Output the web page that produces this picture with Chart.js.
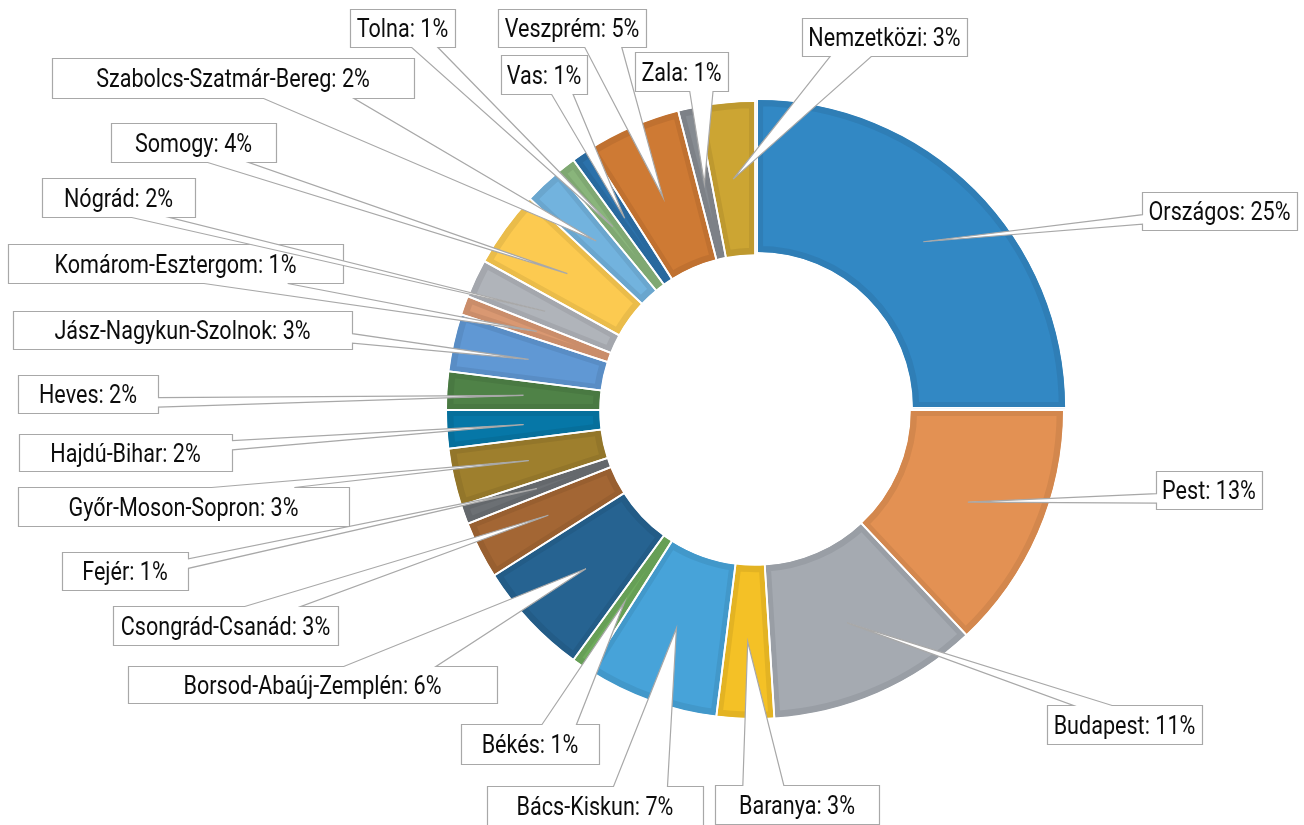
<!DOCTYPE html>
<html>
<head>
<meta charset="utf-8">
<script src="https://cdn.jsdelivr.net/npm/chart.js@4.4.0/dist/chart.umd.min.js"></script>
<style>
  html, body { margin: 0; padding: 0; background: #fff; }
</style>
</head>
<body>
<canvas id="kor" width="1304" height="825"></canvas>
<script>
const megyek = ["Országos", "Pest", "Budapest", "Baranya", "Bács-Kiskun", "Békés",
  "Borsod-Abaúj-Zemplén", "Csongrád-Csanád", "Fejér", "Győr-Moson-Sopron", "Hajdú-Bihar",
  "Heves", "Jász-Nagykun-Szolnok", "Komárom-Esztergom", "Nógrád", "Somogy",
  "Szabolcs-Szatmár-Bereg", "Tolna", "Vas", "Veszprém", "Zala", "Nemzetközi"];
const aranyok = [25, 13, 11, 3, 7, 1, 6, 3, 1, 3, 2, 2, 3, 1, 2, 4, 2, 1, 1, 5, 1, 3];

const szinek = ["#3288c4", "#e39153", "#a5aab1", "#f4c126", "#47a3d9", "#6eab5c",
  "#266391", "#a36634", "#6c7074", "#9e7f2d", "#0677a7", "#4f8247", "#6098d4",
  "#d99872", "#b0b4ba", "#fcca50", "#72b3de", "#89b57b", "#2b71aa", "#ce7a34",
  "#868b91", "#cca533"];

// címkedobozok: [x, y, szélesség, magasság]
const dobozok = [
  [1142, 192, 155, 38], [1156, 471, 106, 38], [1047, 705, 155, 39], [715, 785, 164, 39],
  [487, 786, 216, 39], [461, 724, 138, 40], [128, 666, 369, 37], [113, 606, 225, 39],
  [62, 552, 126, 38], [18, 487, 331, 39], [19, 434, 213, 37], [18, 375, 140, 38],
  [13, 311, 339, 38], [8, 244, 335, 39], [42, 178, 153, 39], [111, 123, 165, 39],
  [52, 58, 362, 40], [350, 9, 105, 38], [501, 55, 86, 39], [498, 9, 148, 38],
  [635, 52, 93, 39], [802, 18, 165, 38]
];

function sotetit(hex, k = 0.93) {
  const n = parseInt(hex.slice(1), 16);
  const c = [(n >> 16) & 255, (n >> 8) & 255, n & 255].map(v => Math.round(v * k));
  return `rgb(${c[0]},${c[1]},${c[2]})`;
}

// téglalap alakú szóbuborék, a csúcsa a cikkbe mutat
function buborek(ctx, b, tip) {
  const [l, t, w, h] = b;
  const r = l + w, bt = t + h;
  const dx = tip.x - (l + w / 2), dy = tip.y - (t + h / 2);
  const oldalt = Math.abs(dx) * h > Math.abs(dy) * w;
  const x1 = l + w * (dx > 0 ? 7 : 2) / 12, x2 = l + w * (dx > 0 ? 10 : 5) / 12;
  const y1 = t + h * (dy > 0 ? 7 : 2) / 12, y2 = t + h * (dy > 0 ? 10 : 5) / 12;
  ctx.beginPath();
  ctx.moveTo(l, t);
  if (!oldalt && dy < 0) { ctx.lineTo(x1, t); ctx.lineTo(tip.x, tip.y); ctx.lineTo(x2, t); }
  ctx.lineTo(r, t);
  if (oldalt && dx > 0) { ctx.lineTo(r, y1); ctx.lineTo(tip.x, tip.y); ctx.lineTo(r, y2); }
  ctx.lineTo(r, bt);
  if (!oldalt && dy > 0) { ctx.lineTo(x2, bt); ctx.lineTo(tip.x, tip.y); ctx.lineTo(x1, bt); }
  ctx.lineTo(l, bt);
  if (oldalt && dx < 0) { ctx.lineTo(l, y2); ctx.lineTo(tip.x, tip.y); ctx.lineTo(l, y1); }
  ctx.closePath();
}

const feliratok = {
  id: 'feliratok',
  afterDatasetsDraw(chart) {
    const ctx = chart.ctx;
    const arcs = chart.getDatasetMeta(0).data;

    // fehér rések a cikkek között
    ctx.save();
    ctx.strokeStyle = '#fff';
    ctx.lineWidth = 1.8;
    arcs.forEach(arc => {
      const {x, y, startAngle, endAngle, innerRadius, outerRadius} = arc;
      const off = (arc.options.offset || 0) / 4;
      const half = (startAngle + endAngle) / 2;
      const ox = x + Math.cos(half) * off, oy = y + Math.sin(half) * off;
      [startAngle, endAngle].forEach(a => {
        ctx.beginPath();
        ctx.moveTo(ox + Math.cos(a) * (innerRadius - 2), oy + Math.sin(a) * (innerRadius - 2));
        ctx.lineTo(ox + Math.cos(a) * (outerRadius + 2), oy + Math.sin(a) * (outerRadius + 2));
        ctx.stroke();
      });
    });
    ctx.restore();

    // buborékos címkék
    ctx.save();
    arcs.forEach((arc, i) => {
      const b = dobozok[i];
      const tip = arc.getCenterPoint();
      const db = [b[0] + 0.5, b[1] + 0.5, b[2], b[3]];
      buborek(ctx, db, tip);
      ctx.fillStyle = '#fff';
      ctx.fill();
      ctx.strokeStyle = '#a8a8a8';
      ctx.lineWidth = 1.2;
      ctx.lineJoin = 'miter';
      ctx.stroke();

      const szoveg = `${megyek[i]}: ${aranyok[i]}%`;
      ctx.save();
      ctx.translate(b[0] + b[2] / 2, b[1] + b[3] / 2 + 9.2);
      ctx.scale(0.83, 1);
      ctx.font = '26px Roboto';
      ctx.fillStyle = '#0d0d0d';
      ctx.textAlign = 'center';
      ctx.textBaseline = 'alphabetic';
      ctx.fillText(szoveg, 0, 0);
      ctx.restore();
    });
    ctx.restore();
  }
};

new Chart(document.getElementById('kor'), {
  type: 'doughnut',
  data: {
    labels: megyek,
    datasets: [{
      data: aranyok,
      backgroundColor: szinek,
      borderColor: szinek.map(c => sotetit(c)),
      borderWidth: 6,
      borderAlign: 'inner',
      offset: aranyok.map((v, i) => i === 0 ? 12 : 0)
    }]
  },
  options: {
    responsive: false,
    animation: false,
    events: [],
    radius: 308,
    cutout: '50.6%',
    layout: { padding: { left: 447, right: 241, top: 102, bottom: 107 } },
    plugins: {
      legend: { display: false },
      tooltip: { enabled: false }
    }
  },
  plugins: [feliratok]
});
</script>
</body>
</html>
